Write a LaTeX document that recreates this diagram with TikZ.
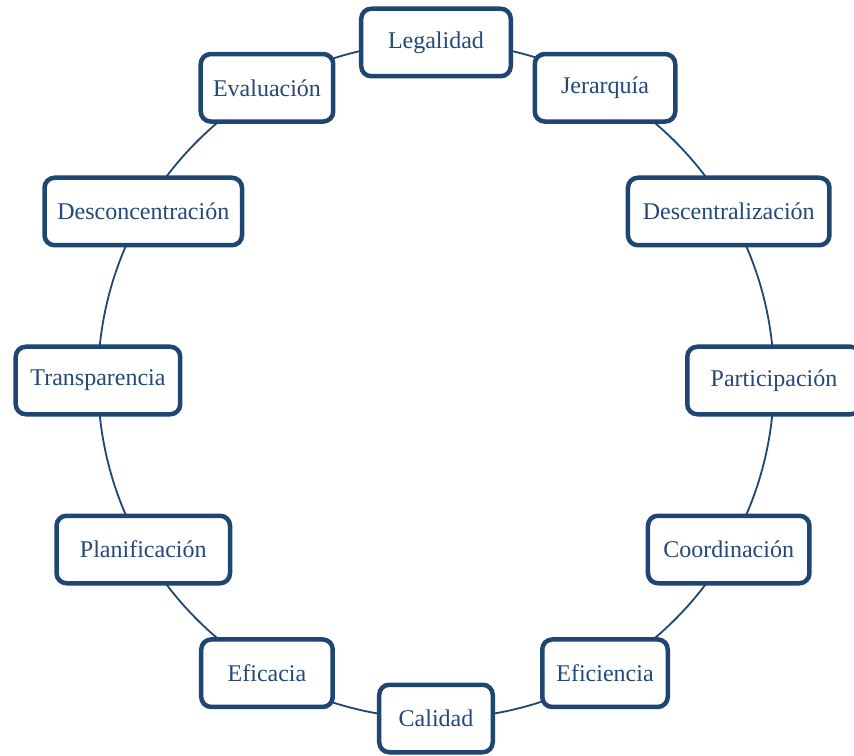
\documentclass[tikz,border=0pt]{standalone}
\usepackage{fontspec}
\setmainfont{Liberation Serif}
\usepackage{xcolor}
\usepackage{tikz}
\usetikzlibrary{positioning,calc}

\definecolor{navy}{RGB}{31,69,115}
\definecolor{navytext}{RGB}{36,72,120}

\begin{document}
\begin{tikzpicture}[
  x=1pt, y=1pt,
  princ/.style={rectangle, rounded corners=10pt, draw=navy, line width=4.5pt,
                fill=white, text=navytext, minimum height=67.5pt, inner sep=0pt,
                align=center, font=\fontsize{24}{28}\selectfont},
  ring/.style={navy, line width=1.8pt},
]
\useasboundingbox (-436,-374.5) rectangle (418,380.5);
\coordinate (ctr) at (0,0);

% circle behind the boxes
\draw[ring] (ctr) circle[radius=338];

\node[princ, minimum width=149.5pt] (legal)   at (90:338)  {Legalidad};
\node[princ, minimum width=140.5pt] (jerar)   at (60:338)  {Jerarquía};
\node[princ, minimum width=201.5pt] (descen)  at (30:338)  {Descentralización};
\node[princ, minimum width=173.5pt] (partic)  at (0:338)   {Participación};
\node[princ, minimum width=161.5pt] (coord)   at (-30:338) {Coordinación};
\node[princ, minimum width=125.5pt] (efici)   at (-60:338) {Eficiencia};
\node[princ, minimum width=113.5pt] (calid)   at (-90:338) {Calidad};
\node[princ, minimum width=131.5pt] (efica)   at (-120:338) {Eficacia};
\node[princ, minimum width=173.5pt] (planif)  at (-150:338) {Planificación};
\node[princ, minimum width=164.5pt] (transp)  at (180:338) {Transparencia};
\node[princ, minimum width=197.5pt] (descon)  at (150:338) {Desconcentración};
\node[princ, minimum width=132.5pt] (evalu)   at (120:338) {Evaluación};
\end{tikzpicture}
\end{document}
